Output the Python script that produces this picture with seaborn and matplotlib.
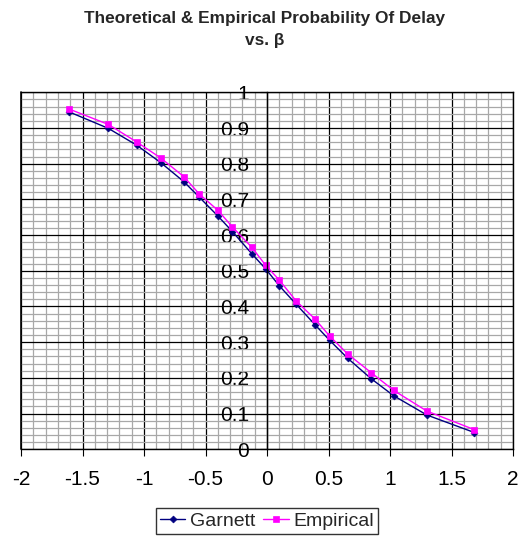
import numpy as np
import pandas as pd
import matplotlib
matplotlib.use("Agg")
import matplotlib.pyplot as plt
from matplotlib.ticker import MultipleLocator, FixedLocator, FixedFormatter
import seaborn as sns

beta = [-1.608, -1.29, -1.06, -0.864, -0.677, -0.55, -0.398, -0.282, -0.124, -0.01,
        0.10, 0.238, 0.39, 0.51, 0.656, 0.846, 1.03, 1.30, 1.686]
garnett = [0.945, 0.899, 0.852, 0.803, 0.750, 0.706, 0.653, 0.610, 0.548, 0.505,
           0.458, 0.406, 0.349, 0.305, 0.255, 0.198, 0.150, 0.096, 0.047]
empirical = [0.953, 0.910, 0.861, 0.816, 0.764, 0.715, 0.669, 0.623, 0.566, 0.515,
             0.474, 0.415, 0.365, 0.317, 0.267, 0.215, 0.165, 0.107, 0.055]

x_ticks = [-2, -1.5, -1, -0.5, 0, 0.5, 1, 1.5, 2]
x_tick_labels = ["-2", "-1.5", "-1", "-0.5", "0", "0.5", "1", "1.5", "2"]
y_ticks = [0, 0.1, 0.2, 0.3, 0.4, 0.5, 0.6, 0.7, 0.8, 0.9, 1.0]
y_tick_labels = ["0", "0.1", "0.2", "0.3", "0.4", "0.5", "0.6", "0.7", "0.8", "0.9", "1"]

title = "Theoretical & Empirical Probability Of Delay\nvs. β"

df_g = pd.DataFrame({"beta": beta, "p": garnett})
df_e = pd.DataFrame({"beta": beta, "p": empirical})

sns.set_style("white")
plt.rcParams["font.family"] = ["Liberation Sans", "DejaVu Sans"]

fig = plt.figure(figsize=(5.2, 5.37), dpi=100)
ax = fig.add_axes([21 / 520, 1 - 449.3 / 537, 492 / 520, 357 / 537])

sns.lineplot(data=df_g, x="beta", y="p", ax=ax, color="#000080", marker="D",
             markersize=3.5, markeredgecolor="#000080", markeredgewidth=0.5,
             linewidth=1.0, sort=False, label="Garnett")
sns.lineplot(data=df_e, x="beta", y="p", ax=ax, color="#FF00FF", marker="s",
             markersize=4.5, markeredgecolor="#FF00FF", markeredgewidth=0.5,
             linewidth=1.0, sort=False, label="Empirical")

ax.set_xlim(-2, 2)
ax.set_ylim(0, 1)
ax.set_xlabel("")
ax.set_ylabel("")

ax.xaxis.set_major_locator(FixedLocator(x_ticks))
ax.xaxis.set_major_formatter(FixedFormatter(x_tick_labels))
ax.yaxis.set_major_locator(FixedLocator(y_ticks))
ax.yaxis.set_major_formatter(FixedFormatter(y_tick_labels))
ax.xaxis.set_minor_locator(MultipleLocator(0.1))
ax.yaxis.set_minor_locator(MultipleLocator(0.02))

ax.set_axisbelow(True)
ax.grid(which="minor", color="#a8a8a8", linewidth=0.9)
ax.grid(which="major", color="black", linewidth=0.9)

ax.spines["left"].set_position(("data", 0))
for s in ["left", "right", "top", "bottom"]:
    ax.spines[s].set_visible(True)
    ax.spines[s].set_color("black")
    ax.spines[s].set_linewidth(1.0)
ax.axvline(-2, color="black", linewidth=1.2, clip_on=False)

ax.tick_params(which="minor", length=0)
ax.tick_params(axis="x", which="major", direction="out", length=5, width=0.8,
               pad=10, labelsize=15, bottom=True, colors="black")
ax.tick_params(axis="y", which="major", direction="out", length=5, width=0.8,
               pad=8, labelsize=15, left=True, colors="black")

handles, labels = ax.get_legend_handles_labels()
ax.get_legend().remove()
leg = fig.legend(handles, labels, loc="center", bbox_to_anchor=(267 / 520, 1 - 521 / 537),
                 ncol=2, frameon=True, fancybox=False, edgecolor="black",
                 handlelength=1.3, columnspacing=0.4, handletextpad=0.25,
                 borderpad=0.2, fontsize=14, borderaxespad=0)
leg.get_frame().set_linewidth(1.0)

fig.text(265 / 520, 1 - 29.5 / 537, title, ha="center", va="center",
         fontsize=12.4, fontweight="bold", linespacing=1.5)

fig.savefig("out.png", dpi=100)
